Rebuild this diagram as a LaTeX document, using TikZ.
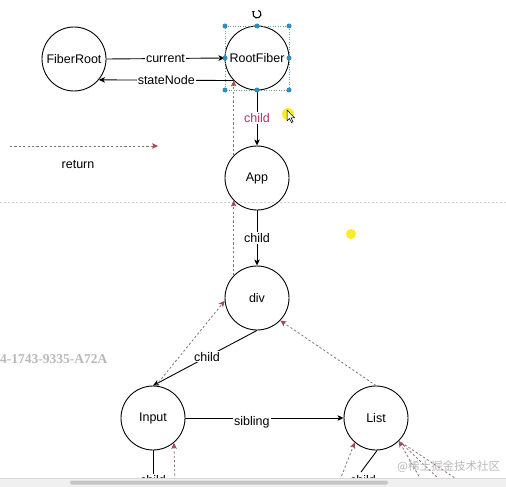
\documentclass[tikz,border=0pt]{standalone}
\usepackage{fontspec}
\setmainfont{Liberation Sans}
\newfontfamily\cjkfont{Noto Sans CJK SC}
\newfontfamily\serifbold{Liberation Serif}
\usetikzlibrary{arrows.meta}
\definecolor{retline}{RGB}{140,112,112}
\definecolor{rettip}{RGB}{165,70,85}
\definecolor{childred}{RGB}{163,58,92}
\definecolor{selblue}{RGB}{40,145,195}
\definecolor{selline}{RGB}{110,150,175}
\begin{document}
\begin{tikzpicture}[x=1pt,y=-1pt,
  fiber/.style={circle,draw=black,line width=0.9pt,minimum size=64pt,inner sep=0pt,font=\fontsize{12.5}{14}\selectfont},
  solidarrow/.style={draw=black,line width=0.9pt,-{Stealth[length=6pt,width=5.5pt,inset=1.5pt]}},
  plainline/.style={draw=black,line width=0.9pt},
  retarrow/.style={draw=retline,line width=0.8pt,dash pattern=on 2.2pt off 2.2pt,-{Stealth[length=6pt,width=5.5pt,inset=1.5pt,color=rettip]}},
  retline/.style={draw=retline,line width=0.8pt,dash pattern=on 2.2pt off 2.2pt},
  elabel/.style={fill=white,inner sep=1pt,font=\fontsize{12.5}{14}\selectfont},
  handle/.style={circle,fill=selblue,inner sep=0pt,minimum size=5pt}
]
\useasboundingbox (0,0) rectangle (506,487);
\fill[white] (0,0) rectangle (506,487);
% page break line
\draw[gray!35,line width=0.5pt,dash pattern=on 2pt off 2pt] (0,202) -- (506,202);

% nodes
\node[fiber] (FR) at (74,59) {FiberRoot};
\node[fiber] (RF) at (257,58) {RootFiber};
\node[fiber] (App) at (257,178) {App};
\node[fiber] (div) at (257,298) {div};
\node[fiber] (Input) at (153,418) {Input};
\node[fiber] (List) at (376,418) {List};

% free ends
\coordinate (inChildEnd) at (153,478);
\coordinate (inRetStart) at (175,480);
\coordinate (liChildEnd) at (361,472);
\coordinate (liRetA) at (340,480);
\coordinate (liRetB) at (421,480);
\coordinate (liRetC) at (440,480);
\coordinate (liRetD) at (458,480);
\coordinate (legA) at (10,146);
\coordinate (legB) at (158,146);

% solid connectors
\draw[solidarrow] (FR.east) -- node[elabel]{current} (RF.west);
\draw[solidarrow] (RF.224) -- node[elabel]{stateNode} (FR.320);
\draw[solidarrow] (RF.south) -- node[elabel,text=childred]{child} (App.north);
\draw[solidarrow] (App.south) -- node[elabel]{child} (div.north);
\draw[solidarrow] (div.south) -- node[elabel,pos=0.48]{child} (Input.north);
\draw[solidarrow] (Input.east) -- node[elabel,pos=0.42,yshift=-4pt]{sibling} (List.west);
\draw[plainline] (Input.south) -- (inChildEnd);
\draw[plainline] (List.272) -- (liChildEnd);

% return connectors
\draw[retarrow] (legA) -- (legB);
\draw[retarrow] (App.136) -- (RF.224);
\draw[retarrow] (div.136) -- (App.224);
\draw[retarrow] (Input.85) -- (div.185);
\draw[retarrow] (List.north) -- (div.316);
\draw[retarrow] (inRetStart) -- (Input.310);
\draw[retarrow] (liRetA) -- (List.229);
\draw[retarrow] (liRetB) -- (List.315);
\draw[retline] (liRetC) -- (List.315);
\draw[retline] (liRetD) -- (List.315);

% labels cut by bottom bar
\node[elabel] (inChildLbl) at (153,480) {child};
\node[elabel] (liChildLbl) at (363,480) {child};

% legend text
\node[font=\fontsize{12.5}{14}\selectfont] (legLbl) at (78,165) {return};

% selection handles
\draw[selline,line width=0.6pt,dash pattern=on 1pt off 1.5pt] (225,26) rectangle (289,90);
\foreach \hx/\hy in {225/26,257/26,289/26,225/58,289/58,225/90,257/90,289/90}
  \node[handle] at (\hx,\hy) {};
\draw[line width=1.1pt,-{Stealth[length=2.5pt,width=3pt]}] (257,14) ++(70:4pt) arc[start angle=70,end angle=-230,radius=4pt];

% cursor highlights
\fill[yellow!90!orange,opacity=0.85] (288,114) circle (6pt);
\fill[yellow!90!orange,opacity=0.85] (351,234) circle (5pt);
\draw[black,line width=0.5pt,fill=white] (287,110) -- (287,121) -- (289.5,118.5) -- (291.5,122.5) -- (293,121.7) -- (291,117.8) -- (294.5,117.8) -- cycle;

% stray texts
\node[anchor=west,text=gray!55,font=\serifbold\bfseries\fontsize{13.5}{15}\selectfont,inner sep=0pt] (guid) at (0,359) {4-1743-9335-A72A};
\node[anchor=west,text=gray!55,font=\cjkfont\fontsize{11.5}{13}\selectfont,inner sep=0pt] (wm) at (397,467) {@稀土掘金技术社区};

% bottom bar with scrollbar
\fill[gray!12] (0,478.5) rectangle (506,487);
\draw[gray!30,line width=0.4pt] (0,478.5) -- (506,478.5);
\fill[gray!45,rounded corners=1.5pt] (70,480.5) rectangle (388,484.5);
\end{tikzpicture}
\end{document}
